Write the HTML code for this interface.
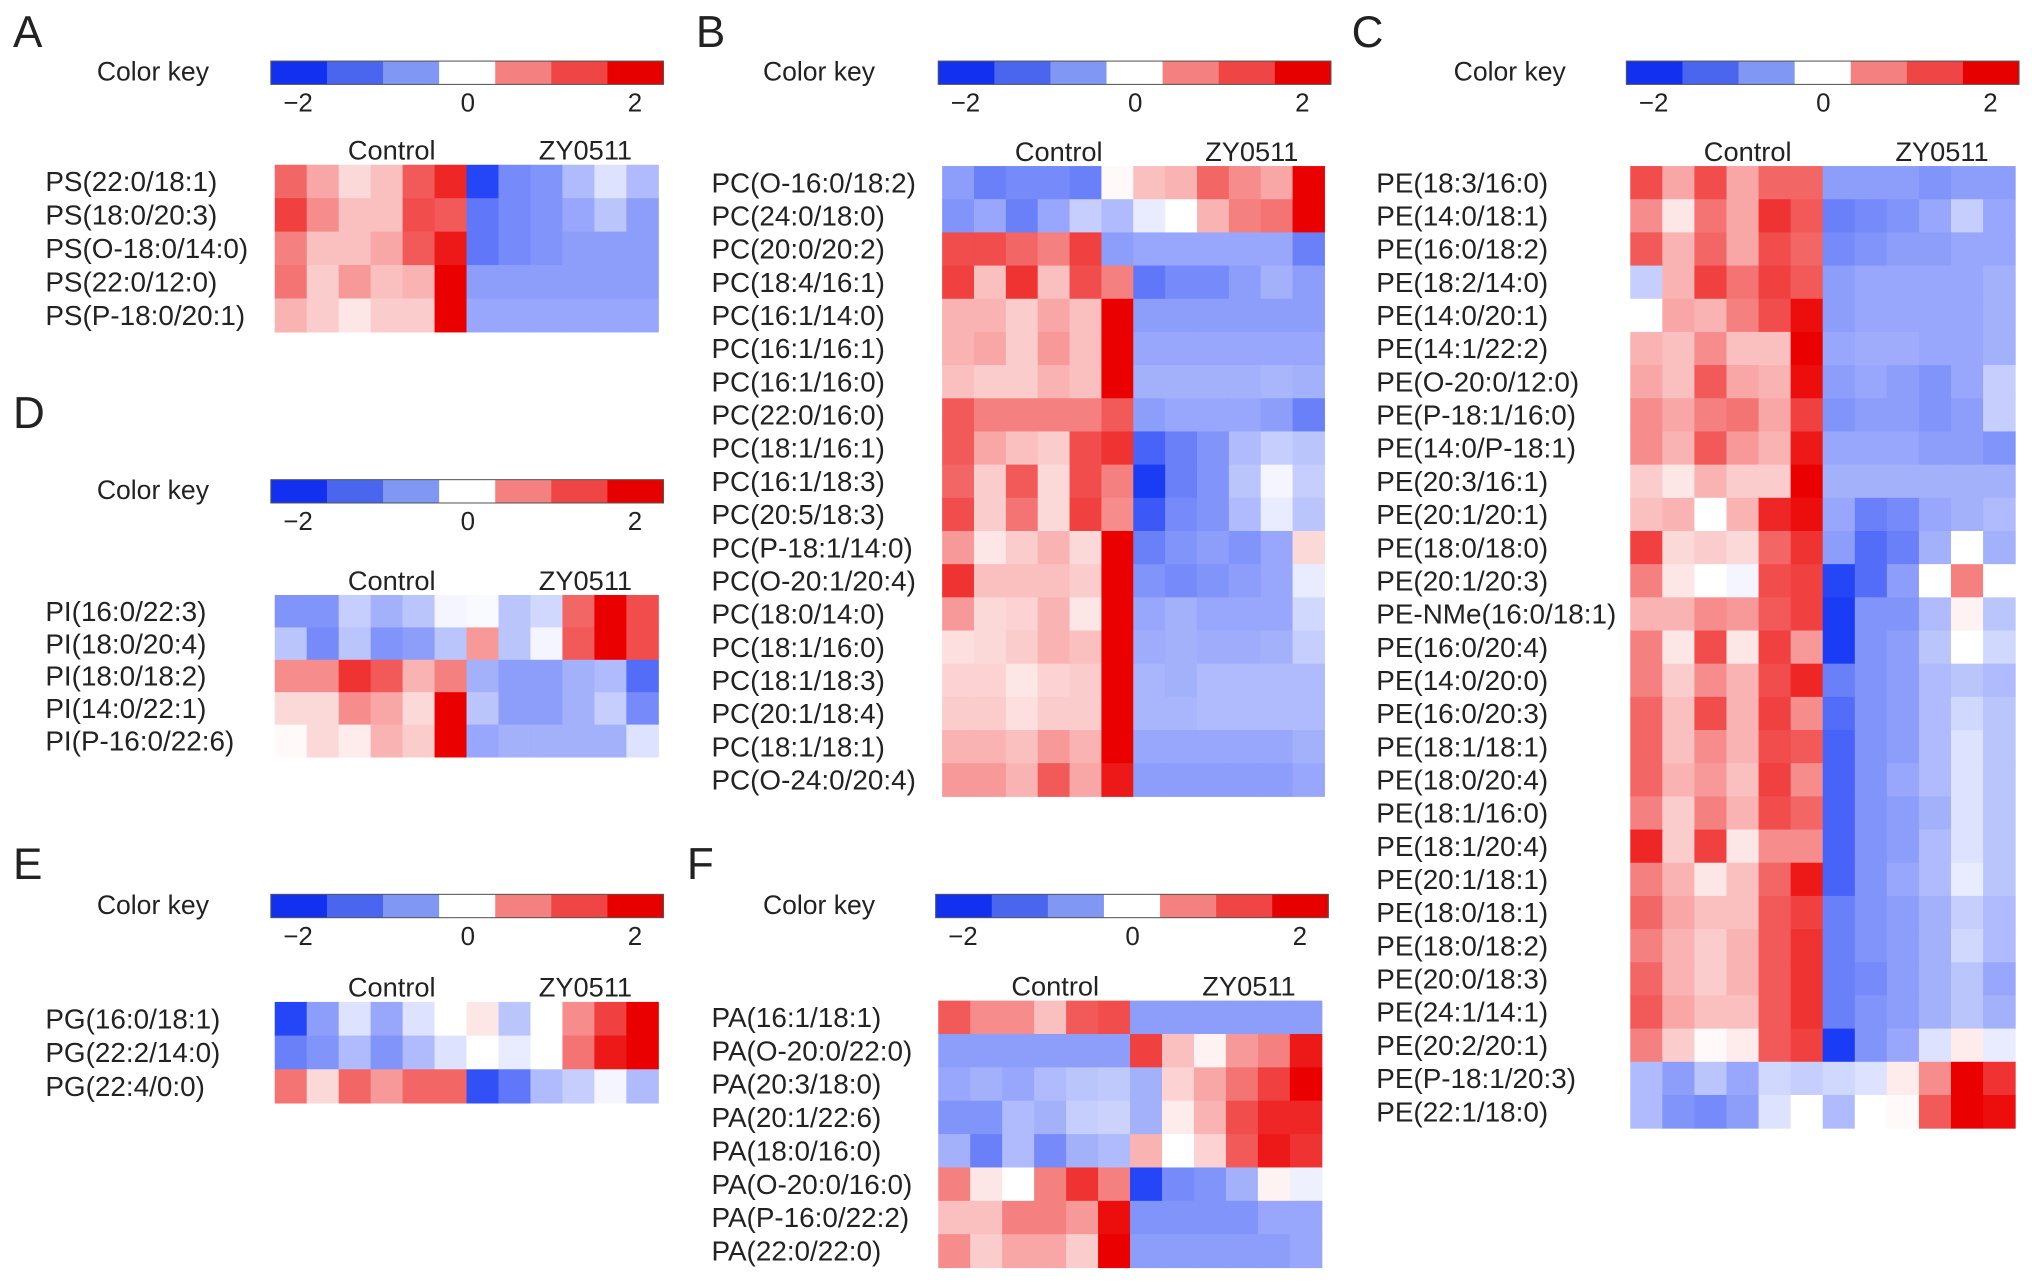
<!DOCTYPE html>
<html><head><meta charset="utf-8">
<style>
html,body{margin:0;padding:0;background:#fff;}
svg{display:block;}
text{font-family:"Liberation Sans",Arial,sans-serif;fill:#222;}
</style></head>
<body>
<svg id="fig" xmlns="http://www.w3.org/2000/svg" width="2032" height="1282" viewBox="0 0 1568 989"></svg>
<script>
// ---- Data ----
const keyTicks = ["\u22122","0","2"];
const keyColors = ["#1230f0","#4a66ee","#8098f3","#ffffff","#f58080","#ef4545","#e60000"];
const groupLabels = ["Control","ZY0511"];

const rowsA = ["PS(22:0/18:1)","PS(18:0/20:3)","PS(O-18:0/14:0)","PS(22:0/12:0)","PS(P-18:0/20:1)"];
const valsA = [
[1.2,0.7,0.3,0.5,1.3,1.7,-1.9,-1.2,-1.1,-0.7,-0.3,-0.7],
[1.5,0.9,0.5,0.5,1.4,1.3,-1.4,-1.2,-1.1,-0.9,-0.6,-1.0],
[1.0,0.5,0.5,0.7,1.3,1.8,-1.4,-1.2,-1.1,-1.0,-1.0,-1.0],
[1.1,0.4,0.8,0.5,0.6,2.1,-1.0,-1.0,-1.0,-1.0,-1.0,-1.0],
[0.6,0.4,0.2,0.4,0.4,2.1,-0.9,-0.9,-0.9,-0.9,-0.9,-0.9]];

const rowsB = ["PC(O-16:0/18:2)","PC(24:0/18:0)","PC(20:0/20:2)","PC(18:4/16:1)","PC(16:1/14:0)","PC(16:1/16:1)","PC(16:1/16:0)","PC(22:0/16:0)","PC(18:1/16:1)","PC(16:1/18:3)","PC(20:5/18:3)","PC(P-18:1/14:0)","PC(O-20:1/20:4)","PC(18:0/14:0)","PC(18:1/16:0)","PC(18:1/18:3)","PC(20:1/18:4)","PC(18:1/18:1)","PC(O-24:0/20:4)"];
const valsB = [
[-1.0,-1.3,-1.2,-1.2,-1.3,0.05,0.5,0.6,1.2,0.9,0.7,2.1],
[-1.1,-0.9,-1.3,-0.9,-0.5,-0.7,-0.2,0.0,0.6,1.0,1.1,2.1],
[1.4,1.4,1.2,1.0,1.5,-1.0,-0.9,-0.9,-0.9,-0.9,-0.9,-1.3],
[1.5,0.5,1.6,0.5,1.4,1.0,-1.4,-1.2,-1.2,-1.0,-0.8,-1.0],
[0.6,0.6,0.4,0.7,0.5,2.1,-1.0,-1.0,-1.0,-1.0,-1.0,-1.0],
[0.6,0.7,0.4,0.8,0.5,2.1,-0.9,-0.9,-0.9,-0.9,-0.9,-0.9],
[0.5,0.4,0.4,0.6,0.5,2.1,-0.8,-0.8,-0.8,-0.8,-0.75,-0.8],
[1.3,1.0,1.0,1.0,1.0,1.3,-1.0,-0.9,-0.9,-0.9,-1.0,-1.3],
[1.3,0.7,0.5,0.4,1.4,1.6,-1.6,-1.3,-1.1,-0.7,-0.5,-0.6],
[1.2,0.4,1.3,0.3,1.4,1.0,-2.0,-1.3,-1.1,-0.6,-0.1,-0.5],
[1.4,0.4,1.1,0.3,1.5,0.9,-1.7,-1.2,-1.1,-0.7,-0.2,-0.6],
[0.8,0.2,0.4,0.6,0.3,2.1,-1.3,-1.1,-1.0,-1.1,-0.9,0.3],
[1.6,0.5,0.5,0.5,0.4,2.0,-1.1,-1.2,-1.1,-1.0,-0.9,-0.2],
[0.8,0.3,0.35,0.6,0.2,2.1,-0.9,-0.8,-0.9,-0.9,-0.9,-0.4],
[0.25,0.3,0.4,0.6,0.5,2.1,-0.85,-0.8,-0.85,-0.85,-0.8,-0.5],
[0.35,0.35,0.2,0.35,0.4,2.1,-0.75,-0.8,-0.7,-0.7,-0.7,-0.7],
[0.4,0.4,0.25,0.4,0.4,2.1,-0.75,-0.75,-0.7,-0.7,-0.7,-0.7],
[0.6,0.6,0.5,0.8,0.6,2.1,-0.9,-0.9,-0.9,-0.9,-0.9,-0.8],
[0.8,0.8,0.6,1.3,0.7,1.8,-1.0,-1.0,-1.0,-1.0,-1.0,-0.9]];

const rowsC = ["PE(18:3/16:0)","PE(14:0/18:1)","PE(16:0/18:2)","PE(18:2/14:0)","PE(14:0/20:1)","PE(14:1/22:2)","PE(O-20:0/12:0)","PE(P-18:1/16:0)","PE(14:0/P-18:1)","PE(20:3/16:1)","PE(20:1/20:1)","PE(18:0/18:0)","PE(20:1/20:3)","PE-NMe(16:0/18:1)","PE(16:0/20:4)","PE(14:0/20:0)","PE(16:0/20:3)","PE(18:1/18:1)","PE(18:0/20:4)","PE(18:1/16:0)","PE(18:1/20:4)","PE(20:1/18:1)","PE(18:0/18:1)","PE(18:0/18:2)","PE(20:0/18:3)","PE(24:1/14:1)","PE(20:2/20:1)","PE(P-18:1/20:3)","PE(22:1/18:0)"];
const valsC = [
[1.4,0.7,1.4,0.7,1.2,1.2,-1.0,-1.0,-1.0,-1.1,-1.0,-1.0],
[0.9,0.2,1.1,0.7,1.6,1.3,-1.3,-1.2,-1.1,-0.9,-0.5,-0.9],
[1.3,0.6,1.2,0.7,1.4,1.2,-1.2,-1.1,-1.0,-1.0,-0.9,-0.9],
[-0.5,0.6,1.5,1.1,1.5,1.3,-1.0,-0.9,-0.9,-0.9,-0.9,-0.8],
[0.0,0.7,0.6,1.0,1.4,1.9,-1.0,-0.9,-0.9,-0.9,-0.9,-0.8],
[0.6,0.5,0.9,0.5,0.5,2.1,-0.9,-0.85,-0.85,-0.9,-0.9,-0.8],
[0.7,0.5,1.3,0.7,0.6,1.9,-1.0,-0.9,-1.0,-1.1,-0.9,-0.5],
[0.9,0.7,1.0,1.1,0.7,1.5,-1.1,-1.0,-1.0,-1.1,-1.0,-0.5],
[0.9,0.6,1.3,0.8,0.6,1.8,-0.9,-0.9,-0.9,-1.0,-1.0,-1.1],
[0.4,0.2,0.6,0.4,0.4,2.1,-0.8,-0.8,-0.8,-0.8,-0.8,-0.8],
[0.5,0.6,0.0,0.6,1.7,1.9,-0.9,-1.3,-1.2,-0.9,-0.8,-0.7],
[1.5,0.3,0.4,0.3,1.2,1.6,-1.0,-1.5,-1.3,-0.8,0.0,-0.8],
[1.0,0.2,0.0,-0.1,1.4,1.5,-1.9,-1.5,-1.0,0.0,1.0,0.0],
[0.6,0.6,0.9,0.8,1.3,1.5,-2.0,-1.1,-1.1,-0.7,0.1,-0.6],
[1.0,0.2,1.4,0.2,1.5,0.8,-2.0,-1.1,-1.0,-0.6,0.0,-0.4],
[1.0,0.4,0.9,0.6,1.4,1.7,-1.3,-1.1,-1.0,-0.7,-0.6,-0.7],
[1.2,0.5,1.4,0.6,1.5,0.9,-1.5,-1.1,-1.0,-0.7,-0.4,-0.6],
[1.2,0.5,0.9,0.6,1.4,1.3,-1.6,-1.1,-1.0,-0.7,-0.3,-0.6],
[1.2,0.6,0.8,0.5,1.5,0.9,-1.6,-1.1,-0.9,-0.7,-0.3,-0.6],
[1.0,0.4,1.0,0.6,1.4,1.2,-1.6,-1.1,-1.0,-0.8,-0.3,-0.6],
[1.7,0.4,1.5,0.2,0.9,0.9,-1.6,-1.1,-1.0,-0.7,-0.3,-0.6],
[1.0,0.6,0.2,0.5,1.2,1.8,-1.6,-1.1,-0.9,-0.7,-0.2,-0.6],
[1.2,0.7,0.5,0.5,1.3,1.5,-1.3,-1.1,-1.0,-0.8,-0.5,-0.7],
[1.0,0.6,0.4,0.6,1.3,1.6,-1.3,-1.1,-1.0,-0.8,-0.4,-0.7],
[1.2,0.6,0.4,0.6,1.3,1.6,-1.3,-1.2,-1.0,-0.8,-0.6,-0.9],
[1.3,0.7,0.5,0.5,1.3,1.6,-1.3,-1.1,-1.0,-0.8,-0.6,-0.8],
[1.0,0.4,0.05,0.15,1.3,1.5,-2.2,-1.1,-0.9,-0.3,0.15,-0.2],
[-0.7,-1.0,-0.6,-0.9,-0.4,-0.5,-0.4,-0.3,0.15,0.9,2.2,1.6],
[-0.7,-1.1,-1.2,-1.0,-0.3,0.0,-0.7,0.0,0.05,1.3,2.0,1.9]];

const rowsD = ["PI(16:0/22:3)","PI(18:0/20:4)","PI(18:0/18:2)","PI(14:0/22:1)","PI(P-16:0/22:6)"];
const valsD = [
[-1.1,-1.1,-0.5,-0.8,-0.6,-0.1,-0.05,-0.6,-0.4,1.2,2.1,1.4],
[-0.6,-1.2,-0.6,-1.1,-1.0,-0.6,0.8,-0.6,-0.1,1.3,2.1,1.4],
[0.9,0.9,1.6,1.3,0.6,1.0,-0.8,-1.0,-1.0,-0.8,-0.7,-1.5],
[0.3,0.3,0.9,0.7,0.3,2.1,-0.6,-1.0,-1.0,-0.8,-0.5,-1.2],
[0.05,0.3,0.15,0.6,0.4,2.1,-0.9,-0.8,-0.8,-0.8,-0.8,-0.3]];

const rowsE = ["PG(16:0/18:1)","PG(22:2/14:0)","PG(22:4/0:0)"];
const valsE = [
[-1.9,-1.0,-0.3,-0.9,-0.3,0.0,0.2,-0.6,0.0,0.9,1.5,2.0],
[-1.3,-1.1,-0.7,-1.1,-0.7,-0.3,0.0,-0.2,0.0,1.1,1.8,2.1],
[1.1,0.3,1.2,0.8,1.2,1.2,-1.8,-1.4,-0.7,-0.5,-0.1,-0.7]];

const rowsF = ["PA(16:1/18:1)","PA(O-20:0/22:0)","PA(20:3/18:0)","PA(20:1/22:6)","PA(18:0/16:0)","PA(O-20:0/16:0)","PA(P-16:0/22:2)","PA(22:0/22:0)"];
const valsF = [
[1.3,0.9,0.9,0.5,1.3,1.4,-1.0,-1.0,-1.0,-1.0,-1.0,-1.0],
[-1.0,-1.0,-1.0,-1.0,-1.0,-1.0,1.5,0.5,0.1,0.8,1.0,1.8],
[-0.9,-0.8,-0.9,-0.7,-0.6,-0.55,-0.8,0.35,0.7,1.1,1.5,2.1],
[-1.1,-1.1,-0.7,-0.8,-0.5,-0.45,-0.8,0.15,0.6,1.4,1.7,1.7],
[-0.8,-1.3,-0.7,-1.2,-0.8,-0.7,0.6,0.0,0.35,1.3,1.8,1.6],
[1.0,0.2,0.0,1.0,1.6,1.0,-1.9,-1.2,-1.1,-0.8,0.1,-0.15],
[0.5,0.5,1.0,1.0,0.8,1.9,-1.1,-1.1,-1.1,-1.1,-0.9,-0.9],
[0.9,0.4,0.7,0.7,0.4,2.1,-1.0,-1.0,-1.0,-1.0,-1.0,-0.9]];

// ---- Rendering ----
const NS = "http://www.w3.org/2000/svg";
const svg = document.getElementById('fig');
function mk(tag, attrs, parent){
  const e = document.createElementNS(NS, tag);
  for (const k in attrs) e.setAttribute(k, attrs[k]);
  (parent||svg).appendChild(e);
  return e;
}
function colorOf(v){
  const t = Math.min(Math.abs(v)/2, 1);
  if (v >= 0){
    const g = Math.round(255*(1-t));
    return `rgb(${Math.round(255-20*t)},${g},${g})`;
  } else {
    return `rgb(${Math.round(255-229*t)},${Math.round(255-195*t)},${Math.round(255-10*t)})`;
  }
}
const panels = [
  {id:'a', letter:'A', lx:10, ly:36, bx:209, by:47, ckx:118, hx:212, hy:127, hw:296, rh:25.8, labx:35, headY:123, rows:rowsA, vals:valsA},
  {id:'b', letter:'B', lx:537, ly:36, bx:724, by:47, ckx:632, hx:727, hy:128, hw:295, rh:25.6, labx:549, headY:124, rows:rowsB, vals:valsB},
  {id:'c', letter:'C', lx:1043, ly:36, bx:1255, by:47, ckx:1165, hx:1258, hy:128, hw:297, rh:25.6, labx:1062, headY:124, rows:rowsC, vals:valsC},
  {id:'d', letter:'D', lx:10, ly:330, bx:209, by:370, ckx:118, hx:212, hy:459, hw:296, rh:25, labx:35, headY:455, rows:rowsD, vals:valsD},
  {id:'e', letter:'E', lx:10, ly:678, bx:209, by:690, ckx:118, hx:212, hy:773, hw:296, rh:26, labx:35, headY:769, rows:rowsE, vals:valsE},
  {id:'f', letter:'F', lx:530, ly:678, bx:722, by:690, ckx:632, hx:724, hy:772, hw:296, rh:25.75, labx:549, headY:768, rows:rowsF, vals:valsF}
];
panels.forEach(p => {
  const g = mk('g', {});
  
  
  const L = mk('text', {x:p.lx, y:p.ly, 'font-size':34}, g);
  L.textContent = p.letter;
  
  
  const ck = mk('text', {x:p.ckx, y:p.by+15, 'font-size':20.5, 'text-anchor':'middle'}, g);
  ck.textContent = 'Color key';
  
  
  const bw = 303/keyColors.length;
  keyColors.forEach((c,i) => {
    const r = mk('rect', {x:p.bx+i*bw, y:p.by, width:bw+0.3, height:18, fill:c}, g);
    
    
  });
  const brd = mk('rect', {x:p.bx, y:p.by, width:303, height:18, fill:'none', stroke:'#555', 'stroke-width':0.8}, g);
  
  
  const tickX = [21, 152, 281];
  keyTicks.forEach((t,i) => {
    const tt = mk('text', {x:p.bx+tickX[i], y:p.by+39, 'font-size':20, 'text-anchor':'middle'}, g);
    tt.textContent = t;
    
    
  });
  [0.305, 0.81].forEach((f,i) => {
    const h = mk('text', {x:p.hx+p.hw*f, y:p.headY, 'font-size':21, 'text-anchor':'middle'}, g);
    h.textContent = groupLabels[i];
    
    
  });
  const nc = p.vals[0].length;
  const cw = p.hw / nc;
  p.vals.forEach((row, ri) => {
    row.forEach((v, ci) => {
      const c = mk('rect', {x:p.hx+ci*cw, y:p.hy+ri*p.rh, width:cw+0.4, height:p.rh+0.4, fill:colorOf(v)}, g);
      
      
    });
    const lab = mk('text', {x:p.labx, y:p.hy+ri*p.rh+p.rh/2+7.5, 'font-size':21.5}, g);
    lab.textContent = p.rows[ri];
    
    
  });
});
</script>
</body></html>
